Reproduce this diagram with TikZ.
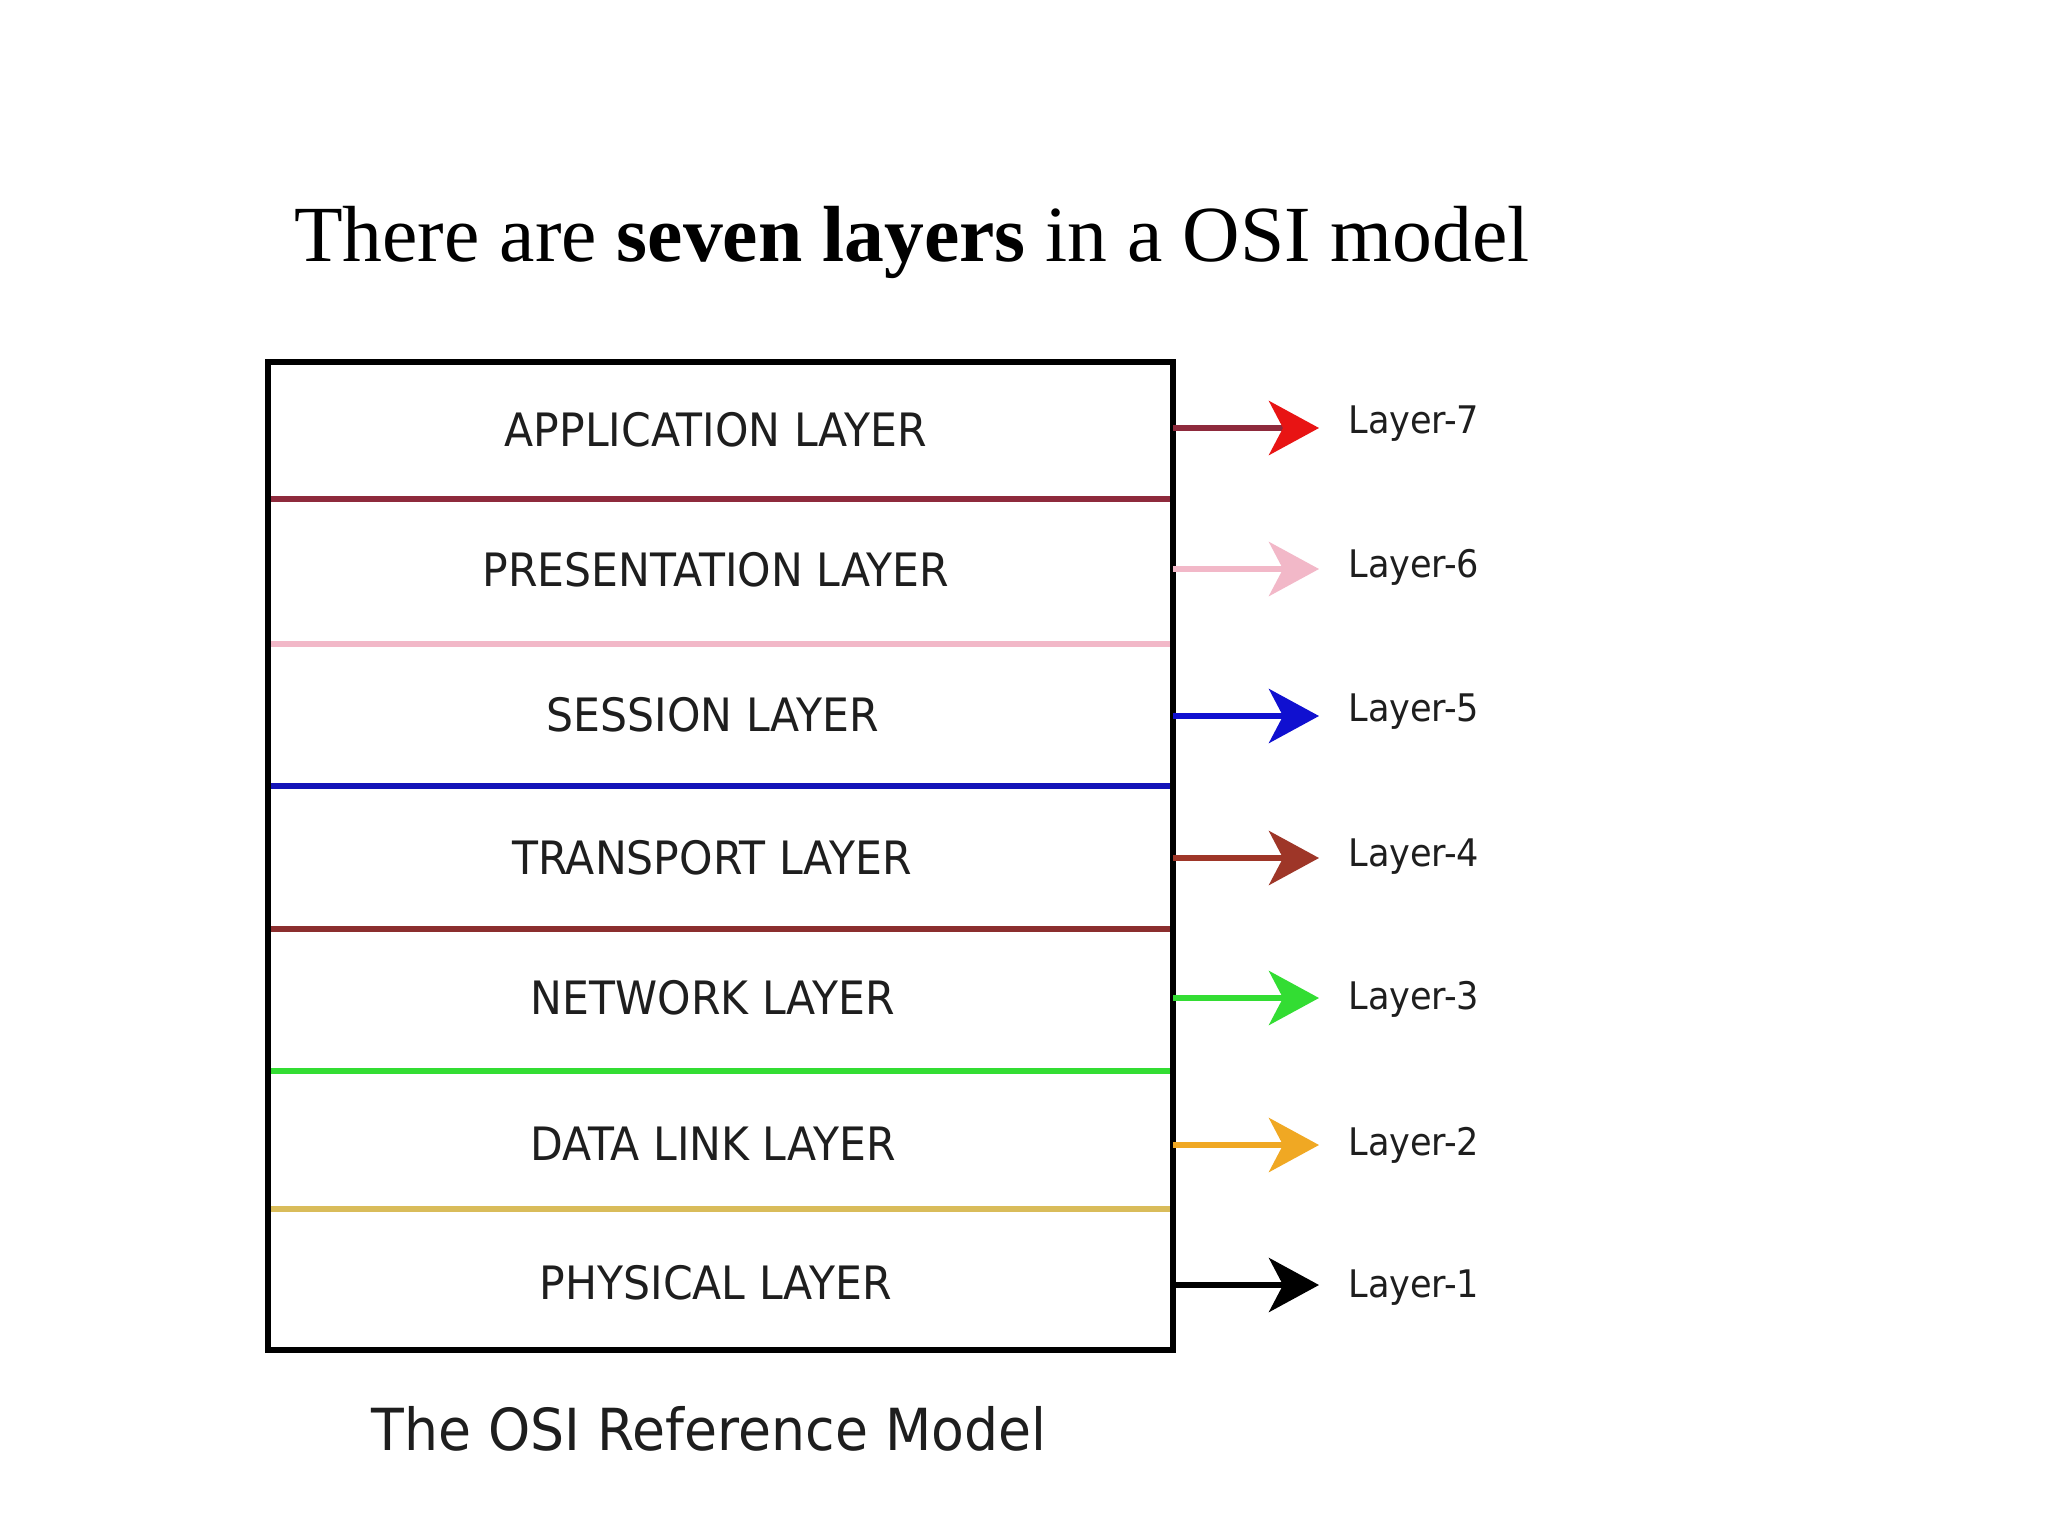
\documentclass[tikz,border=0pt]{standalone}
\usepackage{fontspec}
\setmainfont{Liberation Serif}
\newfontfamily\lyr{DejaVu Sans}[FakeStretch=0.925]
\usetikzlibrary{arrows.meta}
\definecolor{cSeven}{HTML}{8E2A3C}
\definecolor{cSevenHead}{HTML}{E81414}
\definecolor{cSix}{HTML}{F2B8C8}
\definecolor{cFive}{HTML}{1414B8}
\definecolor{cFiveA}{HTML}{1010D0}
\definecolor{cFour}{HTML}{8B2E2E}
\definecolor{cFourA}{HTML}{9E3628}
\definecolor{cThree}{HTML}{33DD33}
\definecolor{cTwo}{HTML}{D9BC5A}
\definecolor{cTwoA}{HTML}{F0A823}
\definecolor{txt}{HTML}{1E1E1E}
\tikzset{
  layerbox/.style={minimum width=452.5pt, minimum height=40pt, inner sep=0pt,
    font=\lyr\fontsize{23}{26}\selectfont, text=txt},
  lbl/.style={anchor=west, inner sep=0pt, font=\lyr\fontsize{19}{22}\selectfont, text=txt},
  divider/.style={line width=3pt},
  arr/.style={line width=3pt, shorten >=14.5pt,
    -{Stealth[length=25pt,width=27pt,inset=7pt]}},
}
\begin{document}
\begin{tikzpicture}[x=0.5pt,y=-0.5pt]
\useasboundingbox[fill=white] (0,0) rectangle (2048,1536);
% title
\node[anchor=base, inner sep=0pt, font=\fontsize{39.8}{48}\selectfont] (title) at (912,261)
  {There are \textbf{seven layers} in a OSI model};
% dividers
\draw[divider, cSeven] (270,499) -- (1171,499);
\draw[divider, cSix] (270,644) -- (1171,644);
\draw[divider, cFive] (270,786) -- (1171,786);
\draw[divider, cFour] (270,929) -- (1171,929);
\draw[divider, cThree] (270,1071) -- (1171,1071);
\draw[divider, cTwo] (270,1209) -- (1171,1209);
% outer box
\draw[line width=3.2pt, black] (268,362) rectangle (1173,1350);
% layers
\node[layerbox] (L7) at (716,430) {APPLICATION LAYER};
\node[layerbox] (L6) at (716,570) {PRESENTATION LAYER};
\node[layerbox] (L5) at (713,715) {SESSION LAYER};
\node[layerbox] (L4) at (712,858) {TRANSPORT LAYER};
\node[layerbox] (L3) at (713,998) {NETWORK LAYER};
\node[layerbox] (L2) at (713,1144) {DATA LINK LAYER};
\node[layerbox] (L1) at (716,1283) {PHYSICAL LAYER};
% labels
\node[lbl] (T7) at (1348,424) {Layer-7};
\node[lbl] (T6) at (1348,567) {Layer-6};
\node[lbl] (T5) at (1348,712) {Layer-5};
\node[lbl] (T4) at (1348,857) {Layer-4};
\node[lbl] (T3) at (1348,999) {Layer-3};
\node[lbl] (T2) at (1348,1145) {Layer-2};
\node[lbl] (T1) at (1348,1288) {Layer-1};
% arrow start points on box edge
\coordinate (A7) at (1173,428);
\coordinate (A6) at (1173,569);
\coordinate (A5) at (1173,716);
\coordinate (A4) at (1173,858);
\coordinate (A3) at (1173,998);
\coordinate (A2) at (1173,1145);
\coordinate (A1) at (1173,1285);
\draw[arr, cSeven, -{Stealth[length=25pt,width=27pt,inset=7pt,color=cSevenHead]}] (A7) -- (A7 -| T7.west);
\draw[arr, cSix] (A6) -- (A6 -| T6.west);
\draw[arr, cFiveA] (A5) -- (A5 -| T5.west);
\draw[arr, cFourA] (A4) -- (A4 -| T4.west);
\draw[arr, cThree] (A3) -- (A3 -| T3.west);
\draw[arr, cTwoA] (A2) -- (A2 -| T2.west);
\draw[arr, black] (A1) -- (A1 -| T1.west);
% caption
\node[anchor=base, inner sep=0pt, font=\lyr\fontsize{29}{35}\selectfont, text=txt] (cap) at (709,1450)
  {The OSI Reference Model};
\end{tikzpicture}
\end{document}
